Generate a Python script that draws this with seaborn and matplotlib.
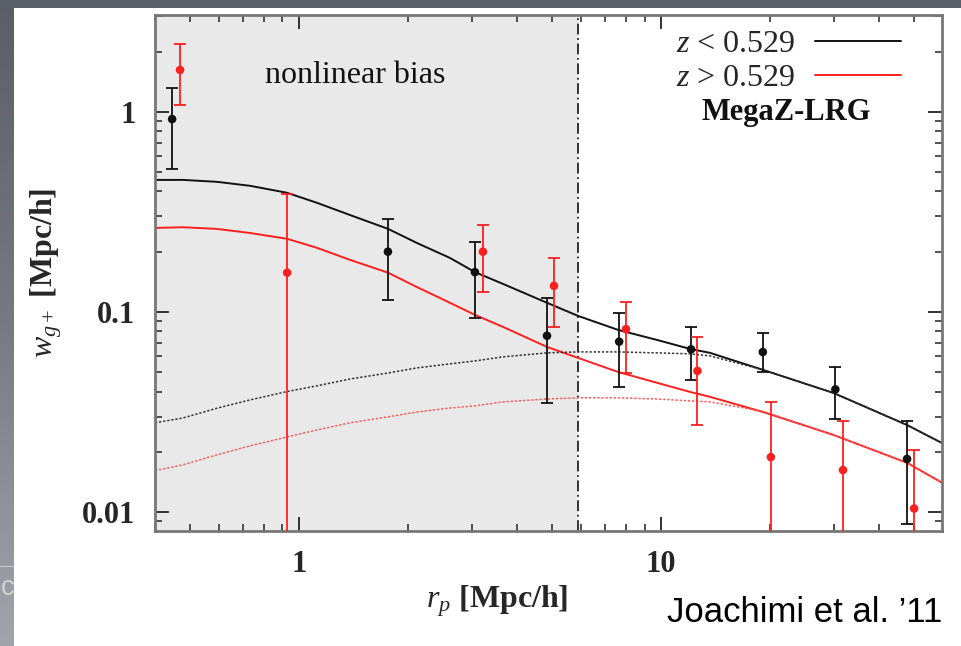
import numpy as np
import pandas as pd
import matplotlib
matplotlib.use("Agg")
import matplotlib.pyplot as plt
from matplotlib.patches import Rectangle
from matplotlib.lines import Line2D
from matplotlib.ticker import LogLocator, FixedLocator, FixedFormatter, NullFormatter
import seaborn as sns

# ---- measured correlation function w_g+ (MegaZ-LRG) ----
r_low = [0.446, 1.76, 3.06, 4.84, 7.66, 12.1, 19.1, 30.3, 47.8]
w_low = [0.92, 0.20, 0.158, 0.076, 0.071, 0.065, 0.063, 0.041, 0.0184]
w_low_lo = [0.52, 0.115, 0.093, 0.035, 0.042, 0.0457, 0.050, 0.0292, 0.0087]
w_low_hi = [1.32, 0.29, 0.224, 0.117, 0.099, 0.084, 0.0785, 0.053, 0.0285]

r_high = [0.469, 0.927, 3.22, 5.06, 8.0, 12.6, 20.1, 31.8, 50.0]
w_high = [1.62, 0.157, 0.20, 0.135, 0.082, 0.0507, 0.0188, 0.0162, 0.0104]
w_high_lo = [1.08, 0.001, 0.126, 0.084, 0.0495, 0.0272, 0.001, 0.001, 0.001]
w_high_hi = [2.19, 0.39, 0.272, 0.186, 0.112, 0.075, 0.0355, 0.0285, 0.0204]

# ---- model curves (nonlinear and linear alignment) ----
r_model = [0.400, 0.478, 0.593, 0.732, 0.927, 1.121, 1.383, 1.762, 2.118, 2.613, 3.063,
           3.660, 4.843, 5.898, 7.607, 9.75, 12.03, 13.66, 19.13, 29.87, 47.8, 59.7]
nl_low = [0.457, 0.457, 0.447, 0.427, 0.394, 0.351, 0.305, 0.260, 0.221, 0.186, 0.158,
          0.138, 0.111, 0.0955, 0.0813, 0.0724, 0.0653, 0.0624, 0.0513, 0.0394, 0.0272, 0.0221]
nl_high = [0.263, 0.265, 0.260, 0.248, 0.232, 0.209, 0.182, 0.157, 0.133, 0.111, 0.0966,
           0.0841, 0.0668, 0.0589, 0.0501, 0.0442, 0.0398, 0.0376, 0.0316, 0.0243, 0.0176, 0.0140]
lin_low = [0.0279, 0.0295, 0.033, 0.0363, 0.040, 0.0427, 0.0462, 0.0495, 0.0525, 0.055, 0.0569,
           0.0596, 0.0624, 0.0631, 0.0631, 0.0624, 0.0617, 0.0603, 0.0513, 0.0394, 0.0272, 0.0221]
lin_high = [0.0161, 0.0172, 0.0193, 0.0214, 0.0237, 0.0257, 0.0279, 0.0299, 0.0316, 0.0331, 0.0339,
            0.0355, 0.0367, 0.0372, 0.0372, 0.0367, 0.0359, 0.0355, 0.0318, 0.0243, 0.0176, 0.0140]

r_cut = 5.9
x_range = (0.4, 59.7)
y_range = (0.00803, 3.05)
xtick_vals = [1, 10]
xtick_labels = ["1", "10"]
ytick_vals = [0.01, 0.1, 1]
ytick_labels = ["0.01", "0.1", "1"]
legend_labels = [r"$z$ < 0.529", r"$z$ > 0.529"]

BLACK = "#111111"
RED = "#ff1f1f"

sns.set_theme(style="ticks")
plt.rcParams["font.family"] = ["Liberation Serif", "DejaVu Serif"]
plt.rcParams["mathtext.fontset"] = "custom"
plt.rcParams["mathtext.rm"] = "Liberation Serif"
plt.rcParams["mathtext.it"] = "Liberation Serif:italic"
plt.rcParams["mathtext.bf"] = "Liberation Serif:bold"

W, H = 961, 646
fig = plt.figure(figsize=(W / 100, H / 100), dpi=100, facecolor="white")

# slide backdrop: dark gradient with a white panel over it
bg = fig.add_axes([0, 0, 1, 1], zorder=-10)
grad = np.linspace(0, 1, 256)[:, None]
bg.imshow(grad, aspect="auto", cmap=matplotlib.colors.LinearSegmentedColormap.from_list(
    "slide", ["#5a5e67", "#777a82", "#a2a4aa"]), extent=[0, 1, 0, 1], origin="upper")
bg.set_xlim(0, 1)
bg.set_ylim(0, 1)
bg.axis("off")
bg.plot([0, 14 / W], [1 - 566 / H, 1 - 566 / H], color="#c8c9cc", lw=0.8)
bg.text(0.5 / W, 1 - 588 / H, "c", color="#d0d1d4", fontsize=20,
        family="Liberation Sans", ha="left", va="center")
fig.patches.append(Rectangle((14 / W, 0), 1 - 14 / W, 1 - 8 / H,
                             transform=fig.transFigure, facecolor="white",
                             edgecolor="none", zorder=-5))

ax = fig.add_axes([155 / W, 1 - 531 / H, (942 - 155) / W, (531 - 15) / H])
ax.set_xscale("log")
ax.set_yscale("log")
ax.set_xlim(*x_range)
ax.set_ylim(*y_range)
ax.set_facecolor("white")

# nonlinear regime shading and cut
ax.axvspan(x_range[0], r_cut, color="#e9e9e9", zorder=0, lw=0)
ax.axvline(r_cut, color="#222222", lw=1.3, ls=(0, (6, 2, 1, 2)), zorder=1)

# model curves
sns.lineplot(x=r_model, y=nl_low, color=BLACK, lw=1.4, ax=ax, zorder=2)
sns.lineplot(x=r_model, y=nl_high, color=RED, lw=1.4, ax=ax, zorder=2)
sns.lineplot(x=r_model, y=lin_low, color="#333333", lw=1.1, ls=(0, (1.5, 1.2)), ax=ax, zorder=2)
sns.lineplot(x=r_model, y=lin_high, color="#ff5a5a", lw=1.1, ls=(0, (1.5, 1.2)), ax=ax, zorder=2)

# measurements with error bars
for r, w, lo, hi, c in [(r_low, w_low, w_low_lo, w_low_hi, BLACK),
                        (r_high, w_high, w_high_lo, w_high_hi, RED)]:
    w = np.asarray(w)
    yerr = np.vstack([w - np.asarray(lo), np.asarray(hi) - w])
    ax.errorbar(r, w, yerr=yerr, fmt="none", ecolor=c, elinewidth=1.3,
                capsize=4.5, capthick=1.3, zorder=3)
    sns.scatterplot(x=r, y=w, color=c, s=38, edgecolor="none", ax=ax, zorder=4)

# axes styling
for s in ax.spines.values():
    s.set_color("#777777")
    s.set_linewidth(2.0)
ax.xaxis.set_major_locator(FixedLocator(xtick_vals))
ax.xaxis.set_major_formatter(FixedFormatter(xtick_labels))
ax.yaxis.set_major_locator(FixedLocator(ytick_vals))
ax.yaxis.set_major_formatter(FixedFormatter(ytick_labels))
ax.xaxis.set_minor_locator(LogLocator(base=10, subs=np.arange(2, 10), numticks=20))
ax.yaxis.set_minor_locator(LogLocator(base=10, subs=np.arange(2, 10), numticks=20))
ax.xaxis.set_minor_formatter(NullFormatter())
ax.yaxis.set_minor_formatter(NullFormatter())
ax.tick_params(which="both", direction="in", top=True, right=True, color="#333333")
ax.tick_params(which="major", length=10, width=1.4, labelsize=22, pad=14)
ax.tick_params(which="minor", length=5, width=1.2)
for lab in ax.get_xticklabels() + ax.get_yticklabels():
    lab.set_fontweight("bold")

ax.set_ylabel(r"$w_{g+}$ [Mpc/h]", fontsize=23, fontweight="bold", labelpad=13)
ax.set_xlabel(r"$r_p$ [Mpc/h]", fontsize=23, fontweight="bold")
ax.xaxis.set_label_coords(0.435, -0.102)

ax.text(0.254, 0.882, "nonlinear bias", transform=ax.transAxes, fontsize=23,
        ha="center", va="center", color="#111111", zorder=5)
ax.text(0.802, 0.812, "MegaZ-LRG", transform=ax.transAxes, fontsize=22,
        fontweight="bold", ha="center", va="center", color="#111111", zorder=5)

handles = [Line2D([], [], color=BLACK, lw=1.4), Line2D([], [], color=RED, lw=1.4)]
ax.legend(handles, legend_labels, loc="upper right", markerfirst=False, frameon=False,
          fontsize=23, handlelength=2.7, labelspacing=0.13, handletextpad=0.6,
          borderaxespad=0.2, bbox_to_anchor=(0.972, 1.008))

fig.text(942 / W, 1 - 612 / H, "Joachimi et al. \u201911", fontsize=25,
         family="Liberation Sans", ha="right", va="center", color="black")

fig.savefig("out.png", dpi=100, facecolor=fig.get_facecolor())
